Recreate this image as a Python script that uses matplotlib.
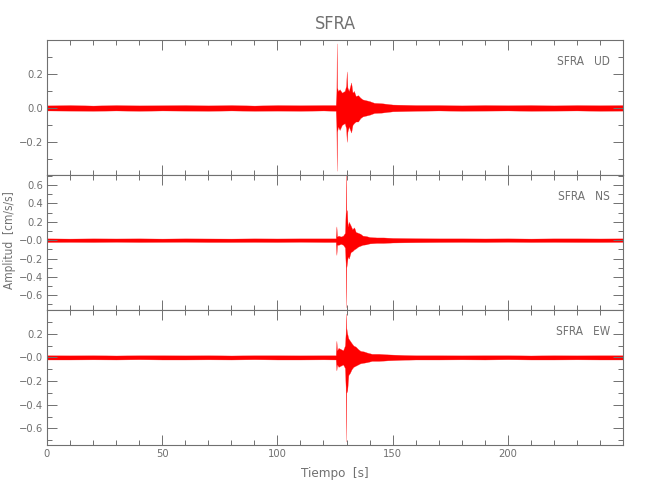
import matplotlib
matplotlib.use('Agg')
import matplotlib.pyplot as plt
from matplotlib.ticker import MultipleLocator, FixedLocator, FixedFormatter

plt.rcParams['font.family'] = ['DejaVu Sans']
plt.rcParams['font.stretch'] = 'condensed'

station = 'SFRA'
components = ['UD', 'NS', 'EW']

# envelope of each trace (time in s, upper / lower amplitude in cm/s/s)
ud_t = [0, 10, 20, 30, 40, 50, 60, 70, 80, 90, 100, 110, 120, 125.3, 125.6, 125.75, 125.9, 126.3, 127, 128,
        129.2, 129.8, 130.1, 130.4, 131, 132, 132.6, 133.2, 134, 135, 136, 137, 138.5, 140, 142, 145, 150,
        160, 170, 180, 190, 200, 210, 220, 230, 240, 250]
ud_hi = [0.015, 0.017, 0.014, 0.017, 0.015, 0.016, 0.017, 0.015, 0.017, 0.014, 0.017, 0.016, 0.017, 0.017, 0.10,
         0.38, 0.12, 0.10, 0.11, 0.09, 0.10, 0.13, 0.215, 0.12, 0.10, 0.15, 0.09, 0.10, 0.07, 0.075, 0.06, 0.05,
         0.045, 0.04, 0.03, 0.028, 0.02, 0.017, 0.017, 0.015, 0.017, 0.016, 0.017, 0.015, 0.017, 0.016, 0.017]
ud_lo = [-0.015, -0.016, -0.017, -0.015, -0.017, -0.015, -0.016, -0.017, -0.015, -0.017, -0.016, -0.017, -0.015,
         -0.017, -0.12, -0.37, -0.14, -0.11, -0.13, -0.10, -0.09, -0.12, -0.20, -0.14, -0.11, -0.145, -0.10,
         -0.09, -0.08, -0.08, -0.06, -0.05, -0.045, -0.04, -0.03, -0.028, -0.02, -0.017, -0.015, -0.017, -0.016,
         -0.015, -0.017, -0.016, -0.015, -0.017, -0.016]

ns_t = [0, 10, 20, 30, 40, 50, 60, 70, 80, 90, 100, 110, 120, 125.3, 125.6, 125.9, 126.5, 127.5, 128.5, 129.3,
        129.6, 129.75, 129.9, 130.2, 130.5, 131, 131.8, 132.5, 133.3, 134, 135, 136, 137, 138.5, 140, 143, 146,
        150, 160, 170, 180, 190, 200, 210, 220, 230, 240, 250]
ns_hi = [0.02, 0.018, 0.02, 0.019, 0.02, 0.018, 0.02, 0.019, 0.018, 0.02, 0.019, 0.02, 0.02, 0.02, 0.15, 0.04,
         0.05, 0.04, 0.05, 0.08, 0.30, 0.76, 0.30, 0.33, 0.15, 0.20, 0.16, 0.12, 0.14, 0.09, 0.08, 0.07, 0.05,
         0.045, 0.035, 0.03, 0.03, 0.025, 0.022, 0.02, 0.02, 0.019, 0.02, 0.018, 0.02, 0.02, 0.019, 0.02]
ns_lo = [-0.02, -0.019, -0.02, -0.018, -0.02, -0.019, -0.018, -0.02, -0.02, -0.019, -0.02, -0.018, -0.02, -0.02,
         -0.16, -0.05, -0.05, -0.04, -0.05, -0.08, -0.25, -0.73, -0.30, -0.25, -0.18, -0.20, -0.13, -0.12, -0.10,
         -0.09, -0.07, -0.06, -0.05, -0.045, -0.035, -0.03, -0.03, -0.025, -0.022, -0.02, -0.019, -0.02, -0.018,
         -0.02, -0.019, -0.02, -0.02, -0.019]

ew_t = [0, 10, 20, 30, 40, 50, 60, 70, 80, 90, 100, 110, 120, 125.3, 125.6, 125.9, 126.5, 127.5, 128.5, 129.3,
        129.6, 129.75, 129.9, 130.3, 130.8, 131.5, 132.2, 133, 134, 135, 136, 137.5, 139, 141, 144, 148, 155,
        160, 170, 180, 190, 200, 210, 220, 230, 240, 250]
ew_hi = [0.018, 0.017, 0.018, 0.016, 0.018, 0.018, 0.017, 0.018, 0.016, 0.018, 0.018, 0.017, 0.018, 0.018, 0.14,
         0.06, 0.08, 0.07, 0.06, 0.10, 0.20, 0.37, 0.25, 0.20, 0.16, 0.14, 0.12, 0.10, 0.09, 0.07, 0.055, 0.05,
         0.04, 0.03, 0.03, 0.025, 0.02, 0.018, 0.018, 0.017, 0.018, 0.018, 0.016, 0.018, 0.017, 0.018, 0.018]
ew_lo = [-0.018, -0.018, -0.017, -0.018, -0.016, -0.018, -0.018, -0.017, -0.018, -0.016, -0.018, -0.018, -0.017,
         -0.018, -0.11, -0.06, -0.08, -0.07, -0.06, -0.09, -0.25, -0.71, -0.30, -0.28, -0.15, -0.13, -0.10, -0.08,
         -0.07, -0.06, -0.05, -0.045, -0.04, -0.03, -0.03, -0.025, -0.02, -0.018, -0.018, -0.017, -0.018, -0.016,
         -0.018, -0.018, -0.017, -0.018, -0.018]

y_limits = [(-0.395, 0.40), (-0.76, 0.71), (-0.74, 0.40)]
y_ticks = [[-0.2, 0.0, 0.2],
           [-0.6, -0.4, -0.2, 0.0, 0.2, 0.4, 0.6],
           [-0.6, -0.4, -0.2, 0.0, 0.2]]
y_ticklabels = [['\u22120.2', '0.0', '0.2'],
                ['\u22120.6', '\u22120.4', '\u22120.2', '\u22120.0', '0.2', '0.4', '0.6'],
                ['\u22120.6', '\u22120.4', '\u22120.2', '\u22120.0', '0.2']]
x_ticks = [0, 50, 100, 150, 200]

traces = [(ud_t, ud_hi, ud_lo), (ns_t, ns_hi, ns_lo), (ew_t, ew_hi, ew_lo)]

grey = '#707070'
fig, axes = plt.subplots(3, 1, figsize=(6.5, 5), dpi=100, sharex=True)
fig.subplots_adjust(left=0.0723, right=0.9585, bottom=0.11, top=0.92, hspace=0)

for i, ax in enumerate(axes):
    t, hi, lo = traces[i]
    ax.fill_between(t, lo, hi, color='#ff0000', linewidth=0.2, edgecolor='#ff3030')
    ax.set_xlim(0, 250)
    ax.set_ylim(*y_limits[i])
    ax.yaxis.set_major_locator(FixedLocator(y_ticks[i]))
    ax.yaxis.set_major_formatter(FixedFormatter(y_ticklabels[i]))
    ax.yaxis.set_minor_locator(MultipleLocator(0.1))
    ax.xaxis.set_major_locator(FixedLocator(x_ticks))
    ax.xaxis.set_minor_locator(MultipleLocator(10))
    ax.tick_params(which='both', direction='in', top=True, right=True, color=grey,
                   labelcolor=grey, labelsize=8, width=0.7, pad=3)
    ax.tick_params(which='major', length=7)
    ax.tick_params(which='minor', length=3.5)
    for s in ax.spines.values():
        s.set_color(grey)
        s.set_linewidth(0.8)
    ax.text(0.977, 0.84, station + '   ' + components[i], transform=ax.transAxes,
            ha='right', va='center', fontsize=8.5, color=grey)

axes[0].set_title(station, fontsize=13, color=grey, pad=8)
fig.text(0.014, 0.52, 'Amplitud  [cm/s/s]', rotation=90, ha='center', va='center',
         fontsize=8.5, color=grey)
axes[2].set_xlabel('Tiempo  [s]', fontsize=9.5, color=grey, labelpad=6)

fig.savefig('out.png', dpi=100)
